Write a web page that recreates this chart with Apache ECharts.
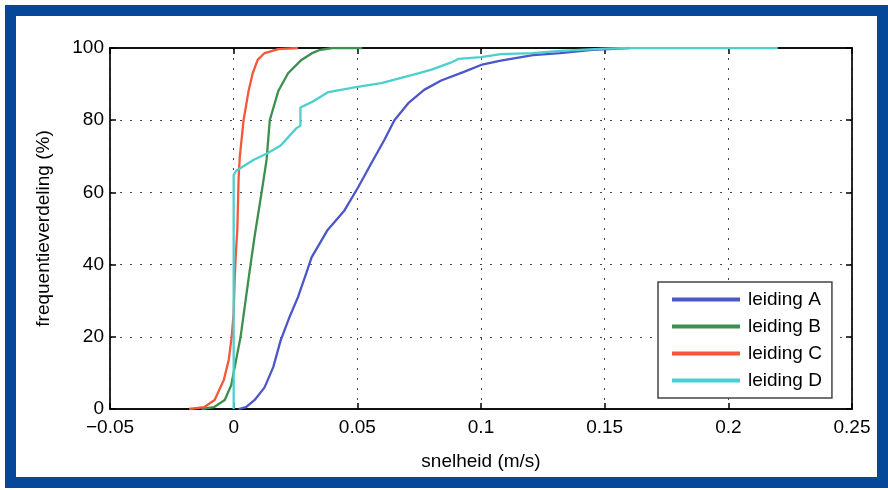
<!DOCTYPE html>
<html>
<head>
<meta charset="utf-8">
<script src="https://cdn.jsdelivr.net/npm/echarts@6/dist/echarts.min.js"></script>
<style>
  html, body { margin: 0; padding: 0; background: #fff; }
  #chart { width: 888px; height: 490px; }
</style>
</head>
<body>
<div id="chart"></div>
<script>
// snelheid (m/s) en frequentieverdeling (%) per leiding
const seriesNames = ['leiding A', 'leiding B', 'leiding C', 'leiding D'];
const xTicks = [-0.05, 0, 0.05, 0.1, 0.15, 0.2, 0.25];
const yTicks = [0, 20, 40, 60, 80, 100];

const speedA = [0.002, 0.005, 0.0085, 0.0125, 0.016, 0.019, 0.0226, 0.026, 0.0294, 0.0315, 0.038, 0.0448, 0.0504, 0.0556, 0.0609, 0.065, 0.0706, 0.077, 0.0839, 0.0931, 0.1, 0.108, 0.121, 0.132, 0.145, 0.16];
const pctA   = [0, 0.5, 2.5, 6, 11.6, 19, 25.5, 31, 37.7, 42, 49.6, 55, 61.5, 68, 74.5, 80, 84.7, 88.4, 91, 93.4, 95.3, 96.5, 98, 98.6, 99.5, 100];

const speedB = [-0.013, -0.008, -0.0036, -0.001, 0.0028, 0.006, 0.0085, 0.0113, 0.0133, 0.0146, 0.018, 0.022, 0.0274, 0.0315, 0.035, 0.04, 0.052];
const pctB   = [0, 0.5, 2.5, 6.6, 20, 36, 48, 60, 69, 80, 88, 93, 96.7, 98.5, 99.5, 100, 100];

const speedC = [-0.018, -0.012, -0.0077, -0.004, -0.002, -0.0008, 0, 0.0004, 0.0008, 0.0015, 0.002, 0.0025, 0.004, 0.006, 0.0077, 0.0097, 0.0125, 0.018, 0.026];
const pctC   = [0, 0.5, 2.5, 8, 13.6, 20, 26.6, 35.7, 42, 50, 64, 70, 80, 88, 93, 96.7, 98.6, 99.7, 100];

const speedD = [0, 0, 0.001, 0.008, 0.014, 0.019, 0.0254, 0.027, 0.027, 0.0315, 0.0383, 0.05, 0.0597, 0.0746, 0.08, 0.088, 0.091, 0.1, 0.108, 0.121, 0.132, 0.15, 0.16, 0.22];
const pctD   = [0, 64.8, 66, 69, 71, 73, 77.8, 78.5, 83.5, 85, 87.8, 89.2, 90.3, 93, 94, 96, 97, 97.5, 98.3, 98.6, 99.2, 99.8, 100, 100];

const colors = ['#4b57c8', '#3d8f4e', '#f4573a', '#4ccfcf'];
const allSpeeds = [speedA, speedB, speedC, speedD];
const allPcts = [pctA, pctB, pctC, pctD];

const font = 'Liberation Sans, Arial, sans-serif';
const fs = 19;

const chart = echarts.init(document.getElementById('chart'));

const gridLine = { show: true, lineStyle: { color: '#444', type: [2, 8], width: 1 } };
const tickIn = { show: true, inside: true, length: 6, lineStyle: { color: '#000', width: 1.5 } };
const axLine = { show: true, onZero: false, lineStyle: { color: '#111', width: 1.8 } };

chart.setOption({
  animation: false,
  backgroundColor: '#fff',
  color: colors,
  graphic: [{
    type: 'rect',
    shape: { x: 10.5, y: 10.5, width: 872, height: 472 },
    style: { fill: 'none', stroke: '#05489a', lineWidth: 11 },
    z: 100
  }],
  grid: { left: 110, right: 36, top: 48, bottom: 81 },
  legend: {
    data: seriesNames,
    orient: 'vertical',
    left: 658,
    top: 282,
    padding: [8, 10, 8, 14],
    itemGap: 8,
    itemWidth: 68,
    itemHeight: 4,
    icon: 'rect',
    borderColor: '#444',
    borderWidth: 1.5,
    backgroundColor: '#fff',
    textStyle: { fontFamily: font, fontSize: fs, color: '#000', padding: [0, 0, 0, 3] }
  },
  xAxis: [{
    type: 'value',
    min: -0.05, max: 0.25, interval: 0.05,
    name: 'snelheid (m/s)',
    nameLocation: 'middle',
    nameGap: 43,
    nameTextStyle: { fontFamily: font, fontSize: fs, color: '#000' },
    axisLine: axLine,
    axisTick: tickIn,
    splitLine: gridLine,
    axisLabel: {
      fontFamily: font, fontSize: fs, color: '#000', margin: 9,
      formatter: v => {
        const t = xTicks.find(x => Math.abs(x - v) < 1e-9);
        if (t === undefined) return '';
        return t < 0 ? '\u2212' + String(-t) : String(t);
      }
    }
  }, {
    type: 'value',
    position: 'top',
    min: -0.05, max: 0.25, interval: 0.05,
    axisLine: axLine,
    axisTick: tickIn,
    axisLabel: { show: false },
    splitLine: { show: false }
  }],
  yAxis: [{
    type: 'value',
    min: 0, max: 100, interval: 20,
    name: 'frequentieverdeling (%)',
    nameLocation: 'middle',
    nameGap: 57,
    nameTextStyle: { fontFamily: font, fontSize: fs, color: '#000' },
    axisLine: axLine,
    axisTick: tickIn,
    splitLine: gridLine,
    axisLabel: { fontFamily: font, fontSize: fs, color: '#000', margin: 6 }
  }, {
    type: 'value',
    position: 'right',
    min: 0, max: 100, interval: 20,
    axisLine: axLine,
    axisTick: tickIn,
    axisLabel: { show: false },
    splitLine: { show: false }
  }],
  series: seriesNames.map((name, i) => ({
    name: name,
    type: 'line',
    data: allSpeeds[i].map((x, j) => [x, allPcts[i][j]]),
    symbol: 'none',
    lineStyle: { width: 2.3, color: colors[i] },
    itemStyle: { color: colors[i] },
    z: 2 + i
  }))
});
</script>
</body>
</html>
